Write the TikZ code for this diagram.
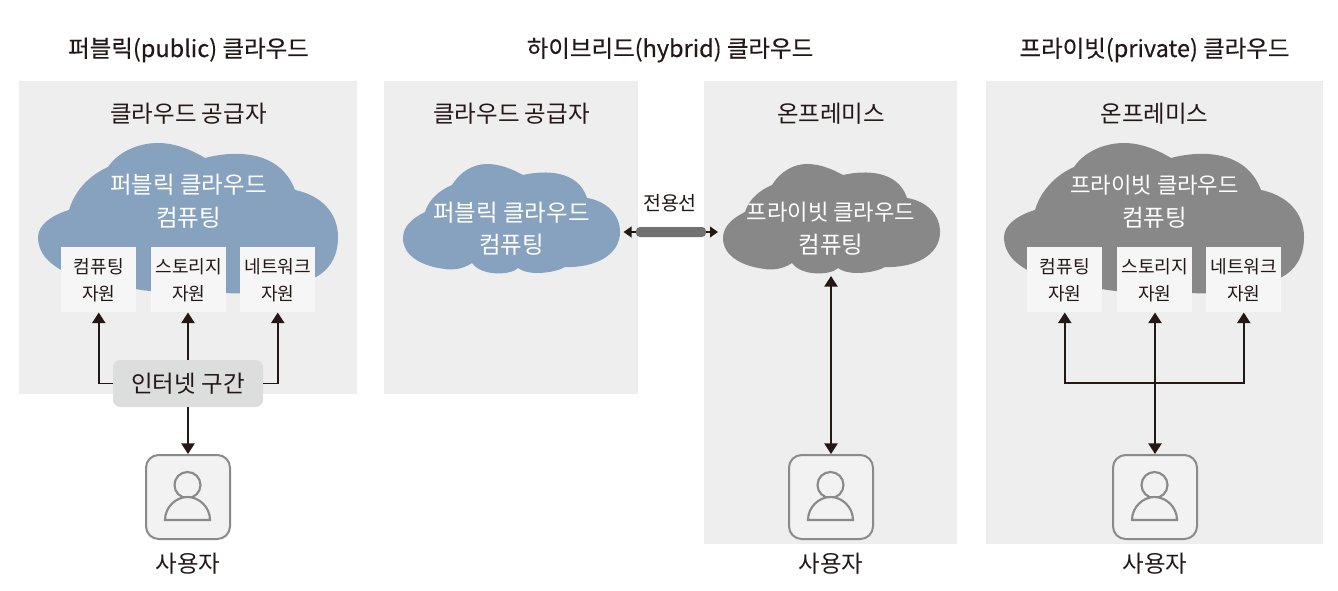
\documentclass[tikz,border=0pt]{standalone}
\usepackage{fontspec}
\setmainfont{Noto Sans CJK KR}
\newfontfamily\krtitle[FakeBold=0.35]{Noto Sans CJK KR}
\usetikzlibrary{arrows.meta,calc}
\definecolor{ink}{HTML}{231815}
\definecolor{panelgray}{HTML}{EEEEEE}
\definecolor{pubblue}{HTML}{87A2BF}
\definecolor{privgray}{HTML}{888888}
\definecolor{resbox}{HTML}{F6F6F6}
\definecolor{netbox}{HTML}{DCDDDD}
\definecolor{userfill}{HTML}{F2F2F2}
\definecolor{userline}{HTML}{8A8A8A}
\definecolor{barfill}{HTML}{717171}
\newcommand{\sizeL}{\fontsize{17.6}{24.75}\selectfont}
\newcommand{\sizeK}{\fontsize{16.7}{24.75}\selectfont}
\newcommand{\sizeM}{\fontsize{14.6}{20}\selectfont}
\newcommand{\sizeS}{\fontsize{13.6}{20.25}\selectfont}
\newcommand{\bigcloudpath}{(38,237)
 .. controls (38,225) and (52,215) .. (69,210)
 .. controls (75,190) and (90,175) .. (108,167)
 .. controls (118,152) and (138,143) .. (158,143)
 .. controls (175,143) and (192,150) .. (205,158)
 .. controls (235,150) and (280,150) .. (295,190)
 .. controls (320,195) and (338,212) .. (338,237)
 .. controls (338,257) and (329,270) .. (316,277)
 .. controls (290,290) and (250,295) .. (227,293)
 .. controls (190,296) and (150,292) .. (130,288)
 .. controls (100,284) and (38,275) .. (38,237) -- cycle}
\newcommand{\smallcloudpath}{(403,238)
 .. controls (403,226) and (413,218) .. (425,212)
 .. controls (429,199) and (440,190) .. (452,185)
 .. controls (460,172) and (473,164) .. (487,164)
 .. controls (500,164) and (512,169) .. (523,175)
 .. controls (545,170) and (578,170) .. (587,198)
 .. controls (606,201) and (620,214) .. (620,232)
 .. controls (620,255) and (595,268) .. (565,267)
 .. controls (557,272) and (530,277) .. (518,268)
 .. controls (512,275) and (482,277) .. (472,263)
 .. controls (462,270) and (450,270) .. (445,269)
 .. controls (420,266) and (403,255) .. (403,238) -- cycle}
\tikzset{
 x=0.75pt, y=-0.75pt,
 every node/.style={text=ink, inner sep=0pt, font=\sizeL},
 panel/.style={fill=panelgray, draw=none, anchor=north west},
 resource/.style={fill=resbox, anchor=north west, minimum width=56.25pt, minimum height=48.75pt, align=center, font=\sizeS, text=ink},
 cloudtext/.style={text=white, font=\sizeL},
 cloudtextwide/.style={text=white, font=\sizeK},
 titletext/.style={font=\krtitle\sizeL},
 userbox/.style={fill=userfill, draw=userline, line width=1.5pt, rounded corners=9.5pt, minimum width=63pt, minimum height=63pt, anchor=north},
 conn/.style={draw=ink, line width=1.2pt},
 tip/.style={-{Triangle[length=8pt,width=10pt]}},
 dtip/.style={{Triangle[length=8pt,width=10pt]}-{Triangle[length=8pt,width=10pt]}},
 smalltip/.style={-{Triangle[length=6pt,width=8pt]}},
 person/.pic={
  \draw[userline, line width=1.6pt, fill=userfill] (-0.5,-55) circle[radius=13];
  \draw[userline, line width=1.6pt, fill=userfill] (-23,-20) .. controls (-23,-33) and (-12,-43) .. (-0.5,-43) .. controls (11,-43) and (22,-33) .. (22,-20) -- cycle;
 }
}
\begin{document}
\begin{tikzpicture}
\useasboundingbox (0,0) rectangle (1338,590);
% panels
\node[panel, minimum width=253.5pt, minimum height=234.75pt] (p1) at (19,81) {};
\node[panel, minimum width=190.5pt, minimum height=234.75pt] (p2) at (384,81) {};
\node[panel, minimum width=189.75pt, minimum height=347.25pt] (p3) at (704,81) {};
\node[panel, minimum width=252.75pt, minimum height=347.25pt] (p4) at (986,81) {};
% titles
\node[titletext] (t1) at (188.5,50) {퍼블릭(public) 클라우드};
\node[titletext] (t2) at (670,50) {하이브리드(hybrid) 클라우드};
\node[titletext] (t3) at (1154.5,50) {프라이빗(private) 클라우드};
\node (h1) at (188.5,113.5) {클라우드 공급자};
\node (h2) at (511.5,113.5) {클라우드 공급자};
\node (h3) at (831,113.5) {온프레미스};
\node (h4) at (1154.5,113.5) {온프레미스};
% clouds
\fill[pubblue] \bigcloudpath;
\fill[privgray, shift={(966,0)}] \bigcloudpath;
\fill[pubblue] \smallcloudpath;
\fill[privgray, shift={(320,0)}] \smallcloudpath;
\node[cloudtext] (c1a) at (188.5,185) {퍼블릭 클라우드};
\node[cloudtext] (c1b) at (188.5,217.5) {컴퓨팅};
\node[cloudtext] (c2a) at (511.5,212.5) {퍼블릭 클라우드};
\node[cloudtext] (c2b) at (511.5,245) {컴퓨팅};
\node[cloudtextwide] (c3a) at (831,212.5) {프라이빗 클라우드};
\node[cloudtext] (c3b) at (831,245) {컴퓨팅};
\node[cloudtextwide] (c4a) at (1154.5,185) {프라이빗 클라우드};
\node[cloudtext] (c4b) at (1154.5,217.5) {컴퓨팅};
% resources
\node[resource] (r1) at (61,247) {컴퓨팅\\자원};
\node[resource] (r2) at (151,247) {스토리지\\자원};
\node[resource] (r3) at (240,247) {네트워크\\자원};
\node[resource] (r4) at (1027,247) {컴퓨팅\\자원};
\node[resource] (r5) at (1117,247) {스토리지\\자원};
\node[resource] (r6) at (1206,247) {네트워크\\자원};
% internet
\node[fill=netbox, rounded corners=5.5pt, minimum width=112.5pt, minimum height=35.25pt] (net) at (188,383.5) {인터넷 구간};
% users
\node[userbox] (u1) at (188,454) {};
\node[userbox] (u2) at (831,454) {};
\node[userbox] (u3) at (1155,454) {};
\pic at (u1.south) {person};
\pic at (u2.south) {person};
\pic at (u3.south) {person};
\node (l1) at (188,564) {사용자};
\node (l2) at (831,564) {사용자};
\node (l3) at (1155,564) {사용자};
% public connectors
\draw[conn,tip] (net.west) -| (r1.south);
\draw[conn,tip] (net.north) -- (r2.south -| net.north);
\draw[conn,tip] (net.east) -| (r3.south);
\draw[conn,tip] (net.south) -- (u1.north);
% leased line
\node (lease) at (670,203) [font=\sizeM] {전용선};
\node[fill=barfill, rounded corners=3pt, minimum width=52.5pt, minimum height=7.5pt] (bar) at (671,232) {};
\coordinate (barL) at (623.5,232);
\coordinate (barR) at (718,232);
\draw[conn,smalltip] (bar.west) -- (barL);
\draw[conn,smalltip] (bar.east) -- (barR);
% hybrid user
\coordinate (cl3) at (831,276);
\draw[conn,dtip] (cl3) -- (u2.north);
% private connectors
\coordinate (junc) at (1155,383);
\draw[conn,tip] (junc) -| (r4.south);
\draw[conn,tip] (junc) -| (r6.south);
\draw[conn,dtip] (r5.south -| u3.north) -- (u3.north);
\end{tikzpicture}
\end{document}
